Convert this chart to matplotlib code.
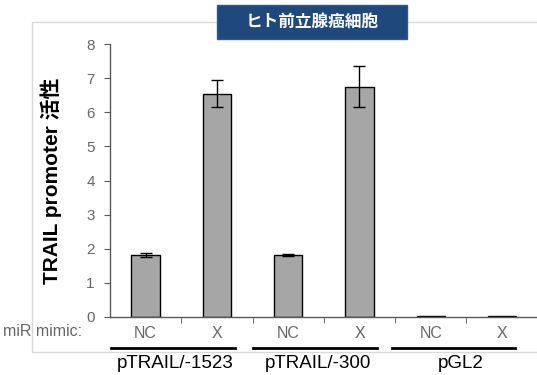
import numpy as np
import matplotlib
matplotlib.use('Agg')
import matplotlib.pyplot as plt
from matplotlib.patches import Rectangle

plt.rcParams['font.family'] = ['Liberation Sans', 'Noto Sans CJK JP', 'DejaVu Sans']

# Data
mimics = ['NC', 'X', 'NC', 'X', 'NC', 'X']
constructs = ['pTRAIL/-1523', 'pTRAIL/-300', 'pGL2']
activity = [1.8, 6.55, 1.8, 6.75, 0.02, 0.02]
activity_err = [0.06, 0.39, 0.03, 0.6, 0.0, 0.0]
yticks = [0, 1, 2, 3, 4, 5, 6, 7, 8]

title = 'ヒト前立腺癌細胞'
ylabel = 'TRAIL promoter 活性'

W, H = 537, 375
fig = plt.figure(figsize=(W / 100, H / 100), dpi=100)


def fx(px):
    return px / W


def fy(py):
    return 1 - py / H


# Light grey frame around the whole panel
fig.patches.append(Rectangle((fx(32), fy(352)), fx(520), (352 - 22) / H, transform=fig.transFigure,
                             fill=False, edgecolor='#d9d9d9', lw=1, zorder=0))

ax = fig.add_axes([fx(110), fy(316.7), fx(427), (316.7 - 44.3) / H])
x = np.arange(len(activity))
ax.bar(x, activity, width=0.4, color='#a6a6a6', edgecolor='black', lw=1, zorder=2)
ax.errorbar(x[:4], activity[:4], yerr=activity_err[:4], fmt='none', ecolor='black', elinewidth=1,
            capsize=4, capthick=1, zorder=3)

ax.set_xlim(-0.5, 5.49)
ax.set_ylim(0, 8)
ax.set_yticks(yticks)
ax.set_xticks(x)
ax.set_xticklabels(mimics)
ax.set_xticks(np.arange(0.5, 5, 1), minor=True)

for side in ['top', 'right']:
    ax.spines[side].set_visible(False)
for side in ['left', 'bottom']:
    ax.spines[side].set_color('#595959')
    ax.spines[side].set_linewidth(1)

ax.tick_params(axis='y', direction='out', length=4, color='#595959', labelcolor='#666666', labelsize=11, pad=7)
ax.tick_params(axis='x', which='major', length=0, labelcolor='#666666', labelsize=11.5, pad=7)
ax.tick_params(axis='x', which='minor', direction='out', length=4, color='#595959')

ax.set_ylabel(ylabel, fontsize=15, weight='bold', labelpad=0)
ax.yaxis.set_label_coords(-(110 - 62) / 427, 0.5)

# Row label for the mimic ticks
fig.text(fx(3), fy(332), 'miR mimic:', fontsize=11.5, color='#666666', ha='left', va='center')

# Group underlines and construct names
spans = [(-0.48, 1.25), (1.50, 3.24), (3.45, 5.18)]
for k, (name, (x0, x1)) in enumerate(zip(constructs, spans)):
    ax.plot([x0, x1], [-0.91, -0.91], color='black', lw=2, clip_on=False)
    ax.text(2 * k + 0.42, -1.36, name, fontsize=13.5, ha='center', va='center', color='black', clip_on=False)

# Title box
fig.patches.append(Rectangle((fx(217), fy(39)), fx(190), 34 / H, transform=fig.transFigure,
                             facecolor='#1f497d', edgecolor='#2e5a8c', lw=1, zorder=3))
fig.text(fx(312), fy(22), title, fontsize=12, weight='bold', color='white', ha='center', va='center',
         family=['Noto Sans CJK JP'], zorder=4)

fig.savefig('out.png', dpi=100)
